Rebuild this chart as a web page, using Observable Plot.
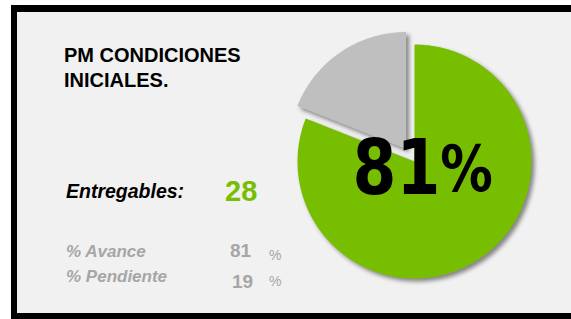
<!DOCTYPE html>
<html>
<head>
<meta charset="utf-8">
<script src="https://cdn.jsdelivr.net/npm/d3@7"></script>
<script src="https://cdn.jsdelivr.net/npm/@observablehq/plot@0.6"></script>
<style>
  html, body { margin: 0; padding: 0; background: #ffffff; }
  #root { position: relative; width: 571px; height: 319px; overflow: hidden; background: #ffffff; }
  #panel { position: absolute; left: 11px; top: 5px; width: 560px; height: 314px; box-sizing: border-box;
           border-left: 6px solid #000; border-top: 7px solid #000; border-bottom: 6px solid #000;
           background: #f1f1f1; }
  .t { position: absolute; white-space: nowrap; line-height: 1; font-family: "Liberation Sans", Arial, sans-serif; }
  #pie { position: absolute; left: 274px; top: 21px; }
  #pie g[aria-label="line"] path { filter: drop-shadow(3px 3px 2px rgba(0,0,0,0.45)); }
  #pie .condense { transform-box: fill-box; transform-origin: 0 100%; transform: scaleX(0.82); }
</style>
</head>
<body>
<div id="root"><div id="panel"></div><div id="pie"></div></div>
<script>
// ---- data ----
const titleLines = ["PM CONDICIONES", "INICIALES."];
const entregablesLabel = "Entregables:";
const entregables = 28;
const slices = ["% Avance", "% Pendiente"];
const values = [81, 19];
const sliceColors = ["#78be00", "#bfbfbf"];
const pctSign = "%";

// ---- text (HTML) ----
const root = document.getElementById("root");
function place(text, x, baseline, fs, css) {
  const el = document.createElement("div");
  el.className = "t";
  el.textContent = text;
  el.style.left = x + "px";
  el.style.top = (baseline - 0.8465 * fs) + "px";
  el.style.fontSize = fs + "px";
  Object.assign(el.style, css || {});
  root.appendChild(el);
}
place(titleLines[0], 64, 62, 20, {fontWeight: "bold", color: "#000"});
place(titleLines[1], 64, 87, 20, {fontWeight: "bold", color: "#000"});
place(entregablesLabel, 66, 199, 19.5, {fontWeight: "bold", fontStyle: "italic", color: "#000"});
place(String(entregables), 225, 202, 29, {fontWeight: "bold", color: "#78be00"});
const gray = "#a6a6a6";
place(slices[0], 66, 257, 17, {fontWeight: "bold", fontStyle: "italic", color: gray});
place(slices[1], 66, 282, 17, {fontWeight: "bold", fontStyle: "italic", color: gray});
place(String(values[0]), 230, 257, 19, {fontWeight: "bold", color: gray});
place(String(values[1]), 232, 288, 19, {fontWeight: "bold", color: gray});
place(pctSign, 269, 260, 14, {color: gray});
place(pctSign, 269, 286, 14, {color: gray});

// ---- pie (Plot) ----
const size = 280, radiusPx = 117;
const R = (size / 2) / radiusPx;
const explodeOffset = 15 / radiusPx;
const total = d3.sum(values);
function wedge(i) {
  const a0 = d3.sum(values.slice(0, i)) / total * 2 * Math.PI;
  const a1 = a0 + values[i] / total * 2 * Math.PI;
  const mid = (a0 + a1) / 2;
  const off = i === 1 ? explodeOffset : 0;
  const cx = off * Math.sin(mid), cy = off * Math.cos(mid);
  const pts = [{x: cx, y: cy}];
  const n = Math.max(8, Math.ceil((a1 - a0) / (Math.PI / 180)));
  for (let k = 0; k <= n; k++) {
    const a = a0 + (a1 - a0) * k / n;
    pts.push({x: cx + Math.sin(a), y: cy + Math.cos(a)});
  }
  pts.push({x: cx, y: cy});
  return pts;
}
const bigFont = "DejaVu Sans";
const plot = Plot.plot({
  width: size, height: size, margin: 0,
  style: "background: transparent; overflow: visible;",
  x: {domain: [-R, R], axis: null},
  y: {domain: [-R, R], axis: null},
  marks: [
    ...slices.map((s, i) => Plot.line(wedge(i), {x: "x", y: "y", fill: sliceColors[i], stroke: "none", curve: "linear"})),
    Plot.text([values[0]], {x: () => 0, y: () => 0, text: d => d + pctSign, fontSize: 77, fontWeight: "bold",
      fontFamily: bigFont, fill: "#000", dx: -62, dy: 32, textAnchor: "start", lineAnchor: "bottom"})
  ]
});
// smaller percent sign inside the same label; condense glyphs to the reference's narrower face
const big = plot.querySelector('g[aria-label="text"] text');
if (big) {
  const full = big.textContent;
  big.textContent = full.slice(0, -pctSign.length);
  const ts = document.createElementNS("http://www.w3.org/2000/svg", "tspan");
  ts.setAttribute("font-size", 64);
  ts.setAttribute("dy", -3);
  ts.textContent = pctSign;
  big.appendChild(ts);
  const wrap = document.createElementNS("http://www.w3.org/2000/svg", "g");
  wrap.setAttribute("class", "condense");
  big.parentNode.insertBefore(wrap, big);
  wrap.appendChild(big);
}
document.getElementById("pie").appendChild(plot);
</script>
</body>
</html>
